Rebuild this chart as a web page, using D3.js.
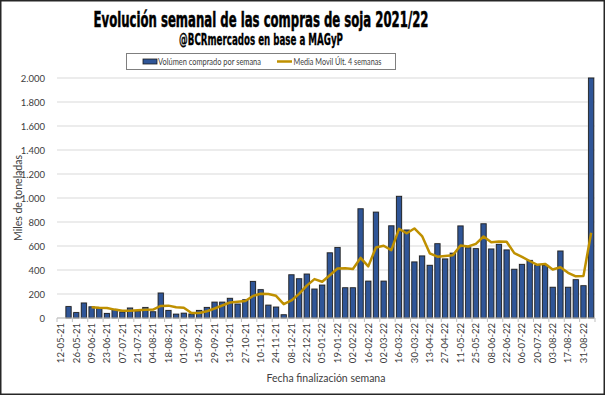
<!DOCTYPE html>
<html>
<head>
<meta charset="utf-8">
<script src="https://cdn.jsdelivr.net/npm/d3@7/dist/d3.min.js"></script>
<style>
body { margin: 0; background: #fff; }
text { font-family: Lato, "Open Sans", sans-serif; fill: #404040; }
</style>
</head>
<body>
<div id="chart"></div>
<script>
// semanas (fecha de finalización)
var weeks = ["12-05-21","19-05-21","26-05-21","02-06-21","09-06-21","16-06-21","23-06-21","30-06-21",
  "07-07-21","14-07-21","21-07-21","28-07-21","04-08-21","11-08-21","18-08-21","25-08-21",
  "01-09-21","08-09-21","15-09-21","22-09-21","29-09-21","06-10-21","13-10-21","20-10-21",
  "27-10-21","03-11-21","10-11-21","17-11-21","24-11-21","01-12-21","08-12-21","15-12-21",
  "22-12-21","29-12-21","05-01-22","12-01-22","19-01-22","26-01-22","02-02-22","09-02-22",
  "16-02-22","23-02-22","02-03-22","09-03-22","16-03-22","23-03-22","30-03-22","06-04-22",
  "13-04-22","20-04-22","27-04-22","04-05-22","11-05-22","18-05-22","25-05-22","01-06-22",
  "08-06-22","15-06-22","22-06-22","29-06-22","06-07-22","13-07-22","20-07-22","27-07-22",
  "03-08-22","10-08-22","17-08-22","24-08-22","31-08-22","07-09-22"];

// miles de toneladas compradas por semana
var volumen = [null,95,45,125,93,80,38,70,50,83,57,87,52,208,63,32,
  40,33,63,88,132,132,164,116,152,305,236,107,91,27,360,327,
  366,241,274,543,588,252,252,910,307,882,307,768,1014,733,467,517,
  439,619,492,540,767,585,578,785,575,614,567,406,447,480,439,439,
  256,558,256,319,269,2000];

// media movil ultimas 4 semanas
var mediaMovil = [null,null,null,null,90,86,84,70,60,60,65,69,70,101,103,89,
  86,42,42,56,79,104,129,136,141,184,202,200,185,115,146,201,
  270,324,302,356,412,414,409,501,430,588,602,566,743,706,746,683,
  539,511,517,523,605,596,618,679,631,638,635,541,509,475,443,451,
  404,423,377,347,351,711];

var yTicks = [0,200,400,600,800,1000,1200,1400,1600,1800,2000];

var W = 605, H = 395;
var m = {left: 57, right: 10, top: 78, bottom: 77};

var svg = d3.select("#chart").append("svg")
    .attr("width", W).attr("height", H);

svg.append("rect").attr("x", 0.5).attr("y", 0.5).attr("width", W - 1).attr("height", H - 1)
    .attr("fill", "#fff").attr("stroke", "#262626").attr("stroke-width", 2);

// ajusta el ancho de un texto escalando en x
function fit(sel, cx, cy, w) {
    var len = sel.node().getComputedTextLength();
    sel.attr("text-anchor", "middle")
        .attr("transform", "translate(" + cx + "," + cy + ") scale(" + (w / len) + ",1)");
}

var x = d3.scaleBand().domain(weeks).range([m.left, W - m.right]).padding(0);
var y = d3.scaleLinear().domain([0, 2000]).range([H - m.bottom, m.top]);

// grid
svg.append("g").selectAll("line").data(yTicks).enter().append("line")
    .attr("x1", m.left).attr("x2", W - m.right)
    .attr("y1", function(d){ return y(d); }).attr("y2", function(d){ return y(d); })
    .attr("stroke", "#d9d9d9").attr("stroke-width", 1);

// eje y
var yAxis = svg.append("g").attr("transform", "translate(" + (m.left - 9) + ",0)")
    .call(d3.axisLeft(y).tickValues(yTicks).tickSize(0)
        .tickFormat(function(d){ return d3.format(",")(d).replace(",", "."); }));
yAxis.select(".domain").remove();
yAxis.selectAll("text").attr("font-size", "9.5px").attr("fill", "#404040")
    .style("font-family", "Lato, sans-serif");

// barras
var bw = x.bandwidth() * 0.68;
var barData = weeks.map(function(w, i){ return {w: w, v: volumen[i]}; })
    .filter(function(d){ return d.v != null; });
// halo gris suave
svg.append("g").selectAll("rect").data(barData).enter().append("rect")
    .attr("x", function(d){ return x(d.w) + (x.bandwidth() - bw) / 2 - 0.8; })
    .attr("width", bw + 1.6)
    .attr("y", function(d){ return y(d.v) - 0.8; })
    .attr("height", function(d){ return y(0) - y(d.v) + 0.8; })
    .attr("fill", "#c8c8c8");
svg.append("g").selectAll("rect").data(barData).enter().append("rect")
    .attr("x", function(d){ return x(d.w) + (x.bandwidth() - bw) / 2; })
    .attr("width", bw)
    .attr("y", function(d){ return y(d.v); })
    .attr("height", function(d){ return y(0) - y(d.v); })
    .attr("fill", "#2f5597")
    .attr("stroke", "#1c1c1c")
    .attr("stroke-width", 0.8);

// eje x
svg.append("line").attr("x1", m.left).attr("x2", W - m.right)
    .attr("y1", y(0)).attr("y2", y(0)).attr("stroke", "#bfbfbf");
var tickIdx = weeks.filter(function(w, i){ return i % 2 == 0; });
svg.append("g").selectAll("line").data(tickIdx.concat(["end"])).enter().append("line")
    .attr("x1", function(d){ return d == "end" ? W - m.right : x(d); })
    .attr("x2", function(d){ return d == "end" ? W - m.right : x(d); })
    .attr("y1", y(0)).attr("y2", y(0) + 4)
    .attr("stroke", "#bfbfbf");

svg.append("g").selectAll("text").data(tickIdx).enter().append("text")
    .attr("transform", function(d){
        return "translate(" + (x(d) + x.bandwidth() / 2 + 3.3) + "," + (y(0) + 5) + ") rotate(-90)";
    })
    .attr("text-anchor", "end")
    .attr("font-size", "9.5px")
    .text(function(d){ return d; });

// media movil
var line = d3.line()
    .defined(function(d){ return d.v != null; })
    .x(function(d){ return x(d.w) + x.bandwidth() / 2; })
    .y(function(d){ return y(d.v); });
svg.append("path")
    .datum(weeks.map(function(w, i){ return {w: w, v: mediaMovil[i]}; }))
    .attr("d", line)
    .attr("fill", "none")
    .attr("stroke", "#bf9000")
    .attr("stroke-width", 2.5)
    .attr("stroke-linejoin", "round");

// titulos
var t1 = svg.append("text")
    .style("font-family", "'Liberation Sans Narrow', 'DejaVu Sans Condensed', sans-serif")
    .attr("font-weight", "bold").attr("font-size", "21px").style("fill", "#000")
    .style("stroke", "#000").style("stroke-width", 0.5)
    .text("Evolución semanal de las compras de soja 2021/22");
fit(t1, 261, 27, 335);
var t2 = svg.append("text")
    .style("font-family", "'Liberation Sans Narrow', 'DejaVu Sans Condensed', sans-serif")
    .attr("font-weight", "bold").attr("font-size", "15px").style("fill", "#000")
    .style("stroke", "#000").style("stroke-width", 0.3)
    .text("@BCRmercados en base a MAGyP");
fit(t2, 261, 45, 164);

svg.append("text")
    .attr("transform", "translate(22," + ((m.top + H - m.bottom) / 2) + ") rotate(-90)")
    .attr("text-anchor", "middle").attr("font-size", "10.5px")
    .text("Miles de toneladas");
svg.append("text").attr("x", 326).attr("y", 382).attr("text-anchor", "middle")
    .attr("font-size", "10.5px")
    .text("Fecha finalización semana");

// leyenda
var lg = svg.append("g");
lg.append("rect").attr("x", 126.5).attr("y", 53.5).attr("width", 269).attr("height", 16)
    .attr("fill", "#fff").attr("stroke", "#7f7f7f");
lg.append("rect").attr("x", 143).attr("y", 59).attr("width", 14).attr("height", 5)
    .attr("fill", "#2f5597").attr("stroke", "#1c1c1c").attr("stroke-width", 0.8);
var l1 = lg.append("text").attr("font-size", "9px").text("Volúmen comprado por semana");
fit(l1, 209.5, 64.5, 103);
lg.append("line").attr("x1", 277).attr("x2", 292).attr("y1", 61.5).attr("y2", 61.5)
    .attr("stroke", "#bf9000").attr("stroke-width", 2.5);
var l2 = lg.append("text").attr("font-size", "9px").text("Media Movil Últ. 4 semanas");
fit(l2, 337.5, 64.5, 88);
</script>
</body>
</html>
